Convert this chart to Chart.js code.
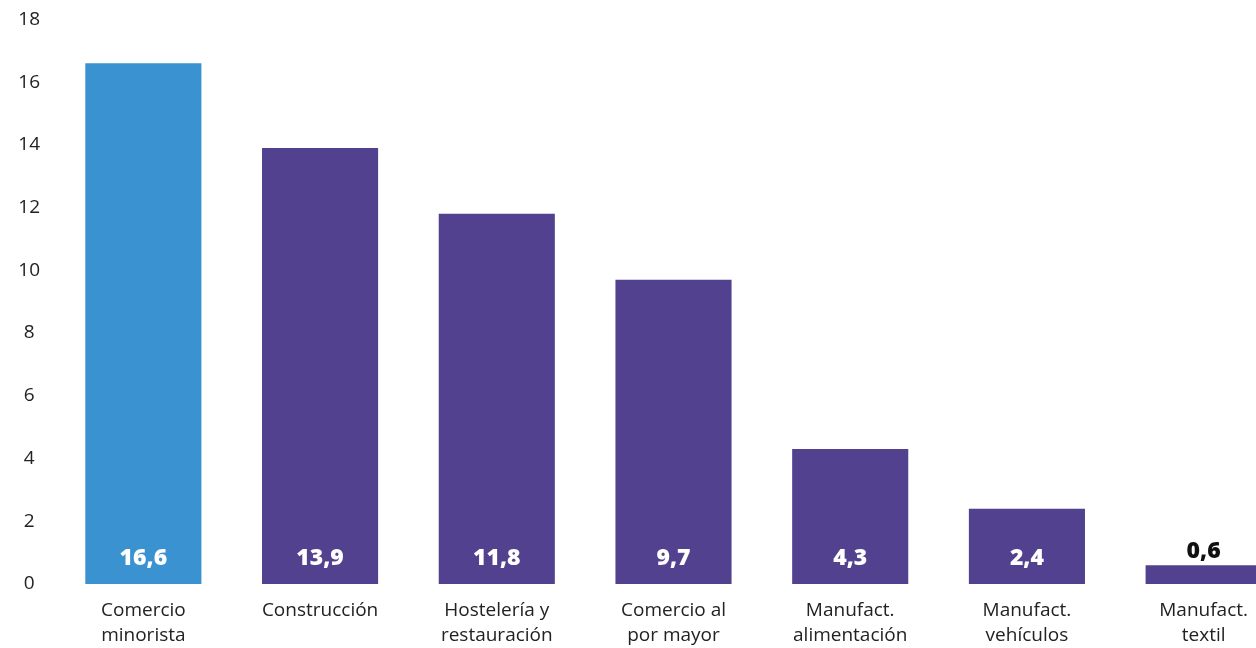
<!DOCTYPE html>
<html>
<head>
<meta charset="utf-8">
<script src="https://cdn.jsdelivr.net/npm/chart.js@4.4.1/dist/chart.umd.min.js"></script>
<style>
  html, body { margin: 0; padding: 0; background: #fff; overflow: hidden; }
  #wrap { width: 1292px; height: 655px; position: relative; margin-top: -7px; }
</style>
</head>
<body>
<div id="wrap"><canvas id="c"></canvas></div>
<script>
const categories = [
  ["Comercio", "minorista"],
  ["Construcción"],
  ["Hostelería y", "restauración"],
  ["Comercio al", "por mayor"],
  ["Manufact.", "alimentación"],
  ["Manufact.", "vehículos"],
  ["Manufact.", "textil"]
];
const values = [16.6, 13.9, 11.8, 9.7, 4.3, 2.4, 0.6];
const valueLabels = ["16,6", "13,9", "11,8", "9,7", "4,3", "2,4", "0,6"];
const barColors = ["#3a93d0", "#51418f", "#51418f", "#51418f", "#51418f", "#51418f", "#51418f"];
const yTicks = [0, 2, 4, 6, 8, 10, 12, 14, 16, 18];

const FONT = "'Open Sans', 'Noto Sans', sans-serif";

const valueLabelPlugin = {
  id: 'valueLabels',
  afterDatasetsDraw(chart) {
    const ctx = chart.ctx;
    const meta = chart.getDatasetMeta(0);
    ctx.save();
    ctx.font = "800 23px " + FONT;
    ctx.textAlign = 'center';
    ctx.textBaseline = 'middle';
    meta.data.forEach((bar, i) => {
      const base = bar.base;
      const h = base - bar.y;
      if (h > 50) {
        ctx.fillStyle = '#ffffff';
        ctx.fillText(valueLabels[i], bar.x, base - 26);
      } else {
        ctx.fillStyle = '#111111';
        ctx.fillText(valueLabels[i], bar.x, bar.y - 14);
      }
    });
    ctx.restore();
  }
};

new Chart(document.getElementById('c'), {
  type: 'bar',
  data: {
    labels: categories,
    datasets: [{
      data: values,
      backgroundColor: barColors,
      borderWidth: 0,
      barPercentage: 0.657,
      categoryPercentage: 1
    }]
  },
  options: {
    responsive: true,
    maintainAspectRatio: false,
    animation: false,
    layout: { padding: { top: 0, left: 0, right: 0, bottom: 0 } },
    plugins: {
      legend: { display: false },
      tooltip: { enabled: false }
    },
    scales: {
      x: {
        grid: { display: false, drawTicks: false },
        border: { display: false },
        ticks: {
          color: '#222222',
          font: { family: FONT, size: 19, lineHeight: 1.32 },
          padding: 14,
          maxRotation: 0,
          autoSkip: false
        },
        afterFit(scale) { scale.height = 64; }
      },
      y: {
        min: 0,
        max: 18,
        grid: { display: false, drawTicks: false },
        border: { display: false },
        afterBuildTicks(scale) { scale.ticks = yTicks.map(v => ({ value: v })); },
        ticks: {
          color: '#222222',
          font: { family: FONT, size: 19 },
          crossAlign: 'center',
          padding: 15
        },
        afterFit(scale) { scale.width = 55; }
      }
    }
  },
  plugins: [valueLabelPlugin]
});
</script>
</body>
</html>
